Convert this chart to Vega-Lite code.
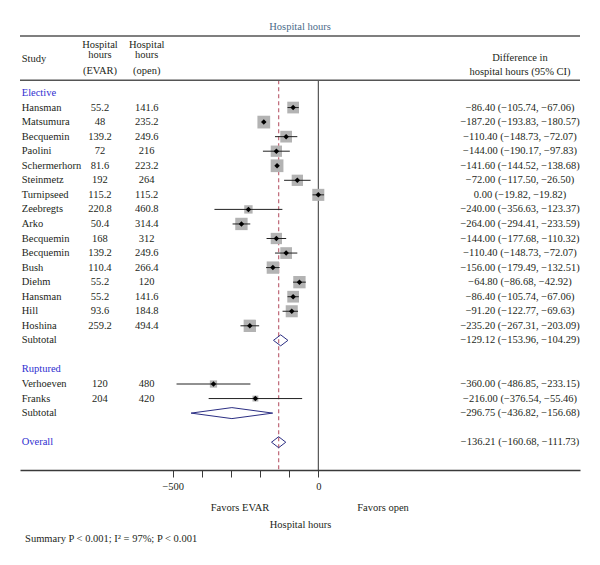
{
  "$schema": "https://vega.github.io/schema/vega-lite/v6.json",
  "width": 560,
  "height": 434,
  "autosize": "none",
  "padding": {"left": 20, "top": 36, "right": 20, "bottom": 95},
  "title": {"text": "Hospital hours", "fontSize": 10.5, "font": "Liberation Serif", "fontWeight": "normal", "color": "#4a6a8a", "offset": 4, "baseline": "bottom", "anchor": "middle", "frame": "group", "dy": 11},
  "data": {"values": [
    {"row": 0, "kind": "group", "label": "Elective"},
    {"row": 1, "kind": "study", "label": "Hansman", "evar": "55.2", "open": "141.6", "est": -86.40, "lo": -105.74, "hi": -67.06, "ci": "−86.40 (−105.74, −67.06)", "weight": 5.5},
    {"row": 2, "kind": "study", "label": "Matsumura", "evar": "48", "open": "235.2", "est": -187.20, "lo": -193.83, "hi": -180.57, "ci": "−187.20 (−193.83, −180.57)", "weight": 6.5},
    {"row": 3, "kind": "study", "label": "Becquemin", "evar": "139.2", "open": "249.6", "est": -110.40, "lo": -148.73, "hi": -72.07, "ci": "−110.40 (−148.73, −72.07)", "weight": 5.5},
    {"row": 4, "kind": "study", "label": "Paolini", "evar": "72", "open": "216", "est": -144.00, "lo": -190.17, "hi": -97.83, "ci": "−144.00 (−190.17, −97.83)", "weight": 5.1},
    {"row": 5, "kind": "study", "label": "Schermerhorn", "evar": "81.6", "open": "223.2", "est": -141.60, "lo": -144.52, "hi": -138.68, "ci": "−141.60 (−144.52, −138.68)", "weight": 6.5},
    {"row": 6, "kind": "study", "label": "Steinmetz", "evar": "192", "open": "264", "est": -72.00, "lo": -117.50, "hi": -26.50, "ci": "−72.00 (−117.50, −26.50)", "weight": 5.1},
    {"row": 7, "kind": "study", "label": "Turnipseed", "evar": "115.2", "open": "115.2", "est": 0.00, "lo": -19.82, "hi": 19.82, "ci": "0.00 (−19.82, −19.82)", "weight": 5.8},
    {"row": 8, "kind": "study", "label": "Zeebregts", "evar": "220.8", "open": "460.8", "est": -240.00, "lo": -356.63, "hi": -123.37, "ci": "−240.00 (−356.63, −123.37)", "weight": 2.8},
    {"row": 9, "kind": "study", "label": "Arko", "evar": "50.4", "open": "314.4", "est": -264.00, "lo": -294.41, "hi": -233.59, "ci": "−264.00 (−294.41, −233.59)", "weight": 6.1},
    {"row": 10, "kind": "study", "label": "Becquemin", "evar": "168", "open": "312", "est": -144.00, "lo": -177.68, "hi": -110.32, "ci": "−144.00 (−177.68, −110.32)", "weight": 5.1},
    {"row": 11, "kind": "study", "label": "Becquemin", "evar": "139.2", "open": "249.6", "est": -110.40, "lo": -148.73, "hi": -72.07, "ci": "−110.40 (−148.73, −72.07)", "weight": 5.5},
    {"row": 12, "kind": "study", "label": "Bush", "evar": "110.4", "open": "266.4", "est": -156.00, "lo": -179.49, "hi": -132.51, "ci": "−156.00 (−179.49, −132.51)", "weight": 6.1},
    {"row": 13, "kind": "study", "label": "Diehm", "evar": "55.2", "open": "120", "est": -64.80, "lo": -86.68, "hi": -42.92, "ci": "−64.80 (−86.68, −42.92)", "weight": 6.1},
    {"row": 14, "kind": "study", "label": "Hansman", "evar": "55.2", "open": "141.6", "est": -86.40, "lo": -105.74, "hi": -67.06, "ci": "−86.40 (−105.74, −67.06)", "weight": 5.5},
    {"row": 15, "kind": "study", "label": "Hill", "evar": "93.6", "open": "184.8", "est": -91.20, "lo": -122.77, "hi": -69.63, "ci": "−91.20 (−122.77, −69.63)", "weight": 5.8},
    {"row": 16, "kind": "study", "label": "Hoshina", "evar": "259.2", "open": "494.4", "est": -235.20, "lo": -267.31, "hi": -203.09, "ci": "−235.20 (−267.31, −203.09)", "weight": 6.1},
    {"row": 17, "kind": "subtotal", "label": "Subtotal", "est": -129.12, "lo": -153.96, "hi": -104.29, "ci": "−129.12 (−153.96, −104.29)"},
    {"row": 19, "kind": "group", "label": "Ruptured"},
    {"row": 20, "kind": "study", "label": "Verhoeven", "evar": "120", "open": "480", "est": -360.00, "lo": -486.85, "hi": -233.15, "ci": "−360.00 (−486.85, −233.15)", "weight": 2.1},
    {"row": 21, "kind": "study", "label": "Franks", "evar": "204", "open": "420", "est": -216.00, "lo": -376.54, "hi": -55.46, "ci": "−216.00 (−376.54, −55.46)", "weight": 1.4},
    {"row": 22, "kind": "subtotal", "label": "Subtotal", "est": -296.75, "lo": -436.82, "hi": -156.68, "ci": "−296.75 (−436.82, −156.68)"},
    {"row": 24, "kind": "overall", "label": "Overall", "est": -136.21, "lo": -160.68, "hi": -111.73, "ci": "−136.21 (−160.68, −111.73)"}
  ]},
  "layer": [
    {
      "transform": [{"filter": "datum.kind == 'overall'"}],
      "mark": {"type": "rule", "color": "#c2707f", "strokeWidth": 1.3, "strokeDash": [4, 3]},
      "encoding": {
        "x": {"field": "est", "type": "quantitative", "scale": {"domain": [-1024.4, 898.7], "nice": false, "zero": false},
              "axis": {"title": "Hospital hours", "values": [-500, -400, -300, -200, -100, 0], "labelExpr": "datum.value == -500 || datum.value == 0 ? datum.label : ''", "grid": false}},
        "y": {"datum": -0.873, "type": "quantitative", "scale": {"domain": [-3.9175, 25.91], "reverse": true, "nice": false, "zero": false}, "axis": null},
        "y2": {"datum": 25.91}
      }
    },
    {
      "data": {"values": [{}]},
      "mark": {"type": "rule", "color": "#333333", "strokeWidth": 1},
      "encoding": {
        "x": {"datum": 0, "type": "quantitative", "scale": {"domain": [-1024.4, 898.7], "nice": false, "zero": false}, "axis": {"title": "Hospital hours"}},
        "y": {"datum": -0.873, "type": "quantitative", "scale": {"domain": [-3.9175, 25.91], "reverse": true, "nice": false, "zero": false}, "axis": null},
        "y2": {"datum": 25.91}
      }
    },
    {
      "data": {"values": [{}]},
      "mark": {"type": "rule", "color": "#555555", "strokeWidth": 1.5},
      "encoding": {
        "y": {"datum": -3.9175, "type": "quantitative", "scale": {"domain": [-3.9175, 25.91], "reverse": true, "nice": false, "zero": false}, "axis": null}
      }
    },
    {
      "data": {"values": [{}]},
      "mark": {"type": "rule", "color": "#555555", "strokeWidth": 1.5},
      "encoding": {
        "y": {"datum": -0.873, "type": "quantitative", "scale": {"domain": [-3.9175, 25.91], "reverse": true, "nice": false, "zero": false}, "axis": null}
      }
    },
    {
      "transform": [{"filter": "datum.kind == 'study'"}],
      "mark": {"type": "point", "shape": "square", "filled": true, "color": "#b3b3b3", "opacity": 1, "strokeWidth": 0},
      "encoding": {
        "x": {"field": "est", "type": "quantitative", "scale": {"domain": [-1024.4, 898.7], "nice": false, "zero": false}, "axis": {"title": "Hospital hours"}},
        "y": {"field": "row", "type": "quantitative", "scale": {"domain": [-3.9175, 25.91], "reverse": true, "nice": false, "zero": false}, "axis": null},
        "size": {"field": "weight", "type": "quantitative", "scale": {"type": "linear", "domain": [0, 10], "range": [0, 250], "zero": true}, "legend": null}
      }
    },
    {
      "transform": [{"filter": "datum.kind == 'study'"}],
      "mark": {"type": "rule", "color": "#222222", "strokeWidth": 1},
      "encoding": {
        "x": {"field": "lo", "type": "quantitative", "scale": {"domain": [-1024.4, 898.7], "nice": false, "zero": false}, "axis": {"title": "Hospital hours"}},
        "x2": {"field": "hi"},
        "y": {"field": "row", "type": "quantitative", "scale": {"domain": [-3.9175, 25.91], "reverse": true, "nice": false, "zero": false}, "axis": null}
      }
    },
    {
      "transform": [{"filter": "datum.kind == 'study'"}],
      "mark": {"type": "point", "shape": "diamond", "filled": true, "color": "#000000", "opacity": 1, "size": 30},
      "encoding": {
        "x": {"field": "est", "type": "quantitative", "scale": {"domain": [-1024.4, 898.7], "nice": false, "zero": false}, "axis": {"title": "Hospital hours"}},
        "y": {"field": "row", "type": "quantitative", "scale": {"domain": [-3.9175, 25.91], "reverse": true, "nice": false, "zero": false}, "axis": null}
      }
    },
    {
      "transform": [{"filter": "datum.kind == 'subtotal' || datum.kind == 'overall'"}],
      "mark": {"type": "rule", "color": "#2b2e83", "strokeWidth": 1, "y2Offset": -5.5},
      "encoding": {
        "x": {"field": "lo", "type": "quantitative", "scale": {"domain": [-1024.4, 898.7], "nice": false, "zero": false}, "axis": {"title": "Hospital hours"}},
        "x2": {"field": "est"},
        "y": {"field": "row", "type": "quantitative", "scale": {"domain": [-3.9175, 25.91], "reverse": true, "nice": false, "zero": false}, "axis": null},
        "y2": {"field": "row"}
      }
    },
    {
      "transform": [{"filter": "datum.kind == 'subtotal' || datum.kind == 'overall'"}],
      "mark": {"type": "rule", "color": "#2b2e83", "strokeWidth": 1, "y2Offset": 5.5},
      "encoding": {
        "x": {"field": "lo", "type": "quantitative", "scale": {"domain": [-1024.4, 898.7], "nice": false, "zero": false}, "axis": {"title": "Hospital hours"}},
        "x2": {"field": "est"},
        "y": {"field": "row", "type": "quantitative", "scale": {"domain": [-3.9175, 25.91], "reverse": true, "nice": false, "zero": false}, "axis": null},
        "y2": {"field": "row"}
      }
    },
    {
      "transform": [{"filter": "datum.kind == 'subtotal' || datum.kind == 'overall'"}],
      "mark": {"type": "rule", "color": "#2b2e83", "strokeWidth": 1, "yOffset": -5.5},
      "encoding": {
        "x": {"field": "est", "type": "quantitative", "scale": {"domain": [-1024.4, 898.7], "nice": false, "zero": false}, "axis": {"title": "Hospital hours"}},
        "x2": {"field": "hi"},
        "y": {"field": "row", "type": "quantitative", "scale": {"domain": [-3.9175, 25.91], "reverse": true, "nice": false, "zero": false}, "axis": null},
        "y2": {"field": "row"}
      }
    },
    {
      "transform": [{"filter": "datum.kind == 'subtotal' || datum.kind == 'overall'"}],
      "mark": {"type": "rule", "color": "#2b2e83", "strokeWidth": 1, "yOffset": 5.5},
      "encoding": {
        "x": {"field": "est", "type": "quantitative", "scale": {"domain": [-1024.4, 898.7], "nice": false, "zero": false}, "axis": {"title": "Hospital hours"}},
        "x2": {"field": "hi"},
        "y": {"field": "row", "type": "quantitative", "scale": {"domain": [-3.9175, 25.91], "reverse": true, "nice": false, "zero": false}, "axis": null},
        "y2": {"field": "row"}
      }
    },
    {
      "transform": [{"filter": "datum.kind == 'study' || datum.kind == 'subtotal'"}],
      "mark": {"type": "text", "align": "left", "baseline": "middle"},
      "encoding": {
        "x": {"datum": -1018.5, "type": "quantitative", "scale": {"domain": [-1024.4, 898.7], "nice": false, "zero": false}, "axis": {"title": "Hospital hours"}},
        "y": {"field": "row", "type": "quantitative", "scale": {"domain": [-3.9175, 25.91], "reverse": true, "nice": false, "zero": false}, "axis": null},
        "text": {"field": "label", "type": "nominal"}
      }
    },
    {
      "transform": [{"filter": "datum.kind == 'group' || datum.kind == 'overall'"}],
      "mark": {"type": "text", "align": "left", "baseline": "middle", "color": "#2f2fd0"},
      "encoding": {
        "x": {"datum": -1018.5, "type": "quantitative", "scale": {"domain": [-1024.4, 898.7], "nice": false, "zero": false}, "axis": {"title": "Hospital hours"}},
        "y": {"field": "row", "type": "quantitative", "scale": {"domain": [-3.9175, 25.91], "reverse": true, "nice": false, "zero": false}, "axis": null},
        "text": {"field": "label", "type": "nominal"}
      }
    },
    {
      "transform": [{"filter": "datum.kind == 'study'"}],
      "mark": {"type": "text", "align": "center", "baseline": "middle"},
      "encoding": {
        "x": {"datum": -749.7, "type": "quantitative", "scale": {"domain": [-1024.4, 898.7], "nice": false, "zero": false}, "axis": {"title": "Hospital hours"}},
        "y": {"field": "row", "type": "quantitative", "scale": {"domain": [-3.9175, 25.91], "reverse": true, "nice": false, "zero": false}, "axis": null},
        "text": {"field": "evar", "type": "nominal"}
      }
    },
    {
      "transform": [{"filter": "datum.kind == 'study'"}],
      "mark": {"type": "text", "align": "center", "baseline": "middle"},
      "encoding": {
        "x": {"datum": -589.3, "type": "quantitative", "scale": {"domain": [-1024.4, 898.7], "nice": false, "zero": false}, "axis": {"title": "Hospital hours"}},
        "y": {"field": "row", "type": "quantitative", "scale": {"domain": [-3.9175, 25.91], "reverse": true, "nice": false, "zero": false}, "axis": null},
        "text": {"field": "open", "type": "nominal"}
      }
    },
    {
      "transform": [{"filter": "datum.kind != 'group'"}],
      "mark": {"type": "text", "align": "center", "baseline": "middle"},
      "encoding": {
        "x": {"datum": 692.7, "type": "quantitative", "scale": {"domain": [-1024.4, 898.7], "nice": false, "zero": false}, "axis": {"title": "Hospital hours"}},
        "y": {"field": "row", "type": "quantitative", "scale": {"domain": [-3.9175, 25.91], "reverse": true, "nice": false, "zero": false}, "axis": null},
        "text": {"field": "ci", "type": "nominal"}
      }
    },
    {
      "data": {"values": [{}]},
      "mark": {"type": "text", "align": "left", "baseline": "alphabetic", "text": "Study"},
      "encoding": {
        "x": {"datum": -1018.5, "type": "quantitative", "scale": {"domain": [-1024.4, 898.7], "nice": false, "zero": false}, "axis": {"title": "Hospital hours"}},
        "y": {"datum": -2.144, "type": "quantitative", "scale": {"domain": [-3.9175, 25.91], "reverse": true, "nice": false, "zero": false}, "axis": null}
      }
    },
    {
      "data": {"values": [{}]},
      "mark": {"type": "text", "align": "center", "baseline": "alphabetic", "text": ["Hospital", "hours"], "lineHeight": 10.6},
      "encoding": {
        "x": {"datum": -749.7, "type": "quantitative", "scale": {"domain": [-1024.4, 898.7], "nice": false, "zero": false}, "axis": {"title": "Hospital hours"}},
        "y": {"datum": -3.127, "type": "quantitative", "scale": {"domain": [-3.9175, 25.91], "reverse": true, "nice": false, "zero": false}, "axis": null}
      }
    },
    {
      "data": {"values": [{}]},
      "mark": {"type": "text", "align": "center", "baseline": "alphabetic", "text": ["Hospital", "hours"], "lineHeight": 10.6},
      "encoding": {
        "x": {"datum": -589.3, "type": "quantitative", "scale": {"domain": [-1024.4, 898.7], "nice": false, "zero": false}, "axis": {"title": "Hospital hours"}},
        "y": {"datum": -3.127, "type": "quantitative", "scale": {"domain": [-3.9175, 25.91], "reverse": true, "nice": false, "zero": false}, "axis": null}
      }
    },
    {
      "data": {"values": [{}]},
      "mark": {"type": "text", "align": "center", "baseline": "alphabetic", "text": "(EVAR)"},
      "encoding": {
        "x": {"datum": -749.7, "type": "quantitative", "scale": {"domain": [-1024.4, 898.7], "nice": false, "zero": false}, "axis": {"title": "Hospital hours"}},
        "y": {"datum": -1.34, "type": "quantitative", "scale": {"domain": [-3.9175, 25.91], "reverse": true, "nice": false, "zero": false}, "axis": null}
      }
    },
    {
      "data": {"values": [{}]},
      "mark": {"type": "text", "align": "center", "baseline": "alphabetic", "text": "(open)"},
      "encoding": {
        "x": {"datum": -589.3, "type": "quantitative", "scale": {"domain": [-1024.4, 898.7], "nice": false, "zero": false}, "axis": {"title": "Hospital hours"}},
        "y": {"datum": -1.34, "type": "quantitative", "scale": {"domain": [-3.9175, 25.91], "reverse": true, "nice": false, "zero": false}, "axis": null}
      }
    },
    {
      "data": {"values": [{}]},
      "mark": {"type": "text", "align": "center", "baseline": "alphabetic", "text": ["Difference in", "hospital hours (95% CI)"], "lineHeight": 14.5},
      "encoding": {
        "x": {"datum": 692.7, "type": "quantitative", "scale": {"domain": [-1024.4, 898.7], "nice": false, "zero": false}, "axis": {"title": "Hospital hours"}},
        "y": {"datum": -2.213, "type": "quantitative", "scale": {"domain": [-3.9175, 25.91], "reverse": true, "nice": false, "zero": false}, "axis": null}
      }
    },
    {
      "data": {"values": [{}]},
      "mark": {"type": "text", "align": "center", "baseline": "middle", "text": "Favors EVAR"},
      "encoding": {
        "x": {"datum": -268.9, "type": "quantitative", "scale": {"domain": [-1024.4, 898.7], "nice": false, "zero": false}, "axis": {"title": "Hospital hours"}},
        "y": {"datum": 28.54, "type": "quantitative", "scale": {"domain": [-3.9175, 25.91], "reverse": true, "nice": false, "zero": false}, "axis": null}
      }
    },
    {
      "data": {"values": [{}]},
      "mark": {"type": "text", "align": "center", "baseline": "middle", "text": "Favors open"},
      "encoding": {
        "x": {"datum": 222.2, "type": "quantitative", "scale": {"domain": [-1024.4, 898.7], "nice": false, "zero": false}, "axis": {"title": "Hospital hours"}},
        "y": {"datum": 28.54, "type": "quantitative", "scale": {"domain": [-3.9175, 25.91], "reverse": true, "nice": false, "zero": false}, "axis": null}
      }
    },
    {
      "data": {"values": [{}]},
      "mark": {"type": "text", "align": "left", "baseline": "middle", "text": "Summary P < 0.001; I² = 97%; P < 0.001"},
      "encoding": {
        "x": {"datum": -1007, "type": "quantitative", "scale": {"domain": [-1024.4, 898.7], "nice": false, "zero": false}, "axis": {"title": "Hospital hours"}},
        "y": {"datum": 30.67, "type": "quantitative", "scale": {"domain": [-3.9175, 25.91], "reverse": true, "nice": false, "zero": false}, "axis": null}
      }
    }
  ],
  "config": {
    "view": {"stroke": null},
    "font": "Liberation Serif",
    "text": {"font": "Liberation Serif", "fontSize": 10.5, "color": "#231f20"},
    "axisX": {
      "domainColor": "#3a3a3a", "domainWidth": 1.5, "tickColor": "#3a3a3a", "tickWidth": 1, "tickSize": 7,
      "labelFont": "Liberation Serif", "labelFontSize": 10.5, "labelColor": "#231f20", "labelPadding": 4,
      "titleFont": "Liberation Serif", "titleFontSize": 10.5, "titleFontWeight": "normal", "titleColor": "#231f20", "titlePadding": 28,
      "grid": false
    }
  }
}
